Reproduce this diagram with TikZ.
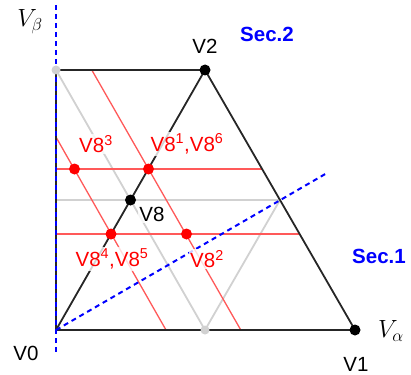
\documentclass[tikz,border=0pt]{standalone}
\usepackage{fontspec}
\setmainfont{Liberation Sans}
\begin{document}
\begin{tikzpicture}[x=1pt,y=-1pt,
  blk/.style={draw=black!85,line width=1.8pt},
  gry/.style={draw=black!18,line width=1.8pt},
  redl/.style={draw=red!65,line width=1.3pt},
  bld/.style={draw=blue,line width=2pt,dash pattern=on 5pt off 4pt},
  lbl/.style={font=\fontsize{20.5}{23}\selectfont,inner sep=1.5pt,fill=white,fill opacity=0.8,text opacity=1},
  rlbl/.style={lbl,text=red},
  sec/.style={font=\fontsize{20.5}{23}\selectfont\bfseries,text=blue,inner sep=1pt},
  mlbl/.style={font=\fontsize{24}{27}\selectfont,inner sep=1pt},
  bdot/.style={circle,fill=black,inner sep=0pt,minimum size=11pt},
  rdot/.style={circle,fill=red,inner sep=0pt,minimum size=11pt},
  gdot/.style={circle,fill=black!18,inner sep=0pt,minimum size=9pt}]
\useasboundingbox (0,0) rectangle (411,374);
% key points
\coordinate (V0) at (56,330);
\coordinate (V1) at (355,330);
\coordinate (V2) at (205,70);
\coordinate (TL) at (56,70);
\coordinate (BM) at (205,330);
\coordinate (M12) at (280,200);
\coordinate (GL) at (56,200);
% red lines
\coordinate (RaS) at (56,137.1);
\coordinate (RaE) at (166,330);
\coordinate (RbS) at (91.8,70);
\coordinate (RbE) at (240.8,330);
\coordinate (HaS) at (56,169);
\coordinate (HaE) at (262.1,169);
\coordinate (HbS) at (56,234);
\coordinate (HbE) at (299.6,234);
% blue lines
\coordinate (BvT) at (56,5);
\coordinate (BvB) at (56,352);
\coordinate (BdE) at (327,173);
% gray lines
\draw[gry] (TL) -- (BM) -- (M12) -- (GL);
% red lines
\draw[redl] (RaS) -- (RaE);
\draw[redl] (RbS) -- (RbE);
\draw[redl] (HaS) -- (HaE);
\draw[redl] (HbS) -- (HbE);
% black outline
\draw[blk] (TL) -- (V2) -- (V1) -- (V0) -- cycle;
\draw[blk] (V0) -- (V2);
% blue dashed
\draw[bld] (BvT) -- (BvB);
\draw[bld] (V0) -- (BdE);
% dots
\node[gdot] (dTL) at (TL) {};
\node[gdot] (dBM) at (BM) {};
\node[bdot] (dV2) at (V2) {};
\node[bdot] (dV1) at (V1) {};
\node[bdot] (dV8) at (130.5,200) {};
\node[rdot] (r3) at (74.5,169) {};
\node[rdot] (r16) at (148.5,169) {};
\node[rdot] (r45) at (111,234) {};
\node[rdot] (r2) at (186.5,234) {};
% labels
\node[rlbl] (l3) at (96,144) {V8\textsuperscript{3}};
\node[rlbl] (l16) at (187,144) {V8\textsuperscript{1},V8\textsuperscript{6}};
\node[lbl] (l8) at (152,214) {V8};
\node[rlbl] (l45) at (112,259) {V8\textsuperscript{4},V8\textsuperscript{5}};
\node[rlbl] (l2) at (207,259) {V8\textsuperscript{2}};
\node[lbl,fill=none] (lV2) at (205,46) {V2};
\node[lbl,fill=none] (lV0) at (26,353) {V0};
\node[lbl,fill=none] (lV1) at (356,364) {V1};
\node[sec] (s2) at (267,34) {Sec.2};
\node[sec] (s1) at (379,256) {Sec.1};
\node[mlbl] (va) at (391,331) {$V_\alpha$};
\node[mlbl] (vb) at (30,22) {$V_\beta$};
\end{tikzpicture}
\end{document}
